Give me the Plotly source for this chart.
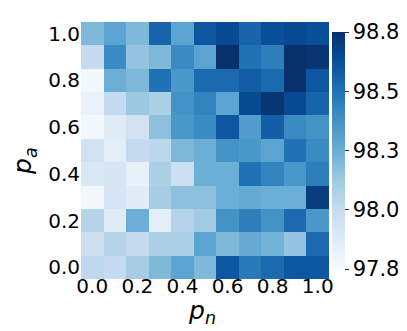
import plotly.graph_objects as go

p_n = [0.0, 0.1, 0.2, 0.3, 0.4, 0.5, 0.6, 0.7, 0.8, 0.9, 1.0]
p_a = [0.0, 0.1, 0.2, 0.3, 0.4, 0.5, 0.6, 0.7, 0.8, 0.9, 1.0]
tick_vals = [0.0, 0.2, 0.4, 0.6, 0.8, 1.0]
tick_text = ["0.0", "0.2", "0.4", "0.6", "0.8", "1.0"]
cbar_vals = [97.8, 98.05, 98.3, 98.55, 98.8]
cbar_text = ["97.8", "98.0", "98.3", "98.5", "98.8"]

# accuracy per (p_a row, p_n column), rows from p_a = 0.0 upwards
acc = [
    [98.07, 98.05, 98.15, 98.25, 98.35, 98.25, 98.65, 98.52, 98.58, 98.65, 98.65],
    [98.02, 98.10, 98.05, 98.13, 98.13, 98.35, 98.25, 98.32, 98.28, 98.20, 98.58],
    [98.10, 97.92, 98.30, 97.90, 98.10, 98.17, 98.42, 98.50, 98.42, 98.58, 98.40],
    [97.82, 97.97, 97.92, 98.15, 98.22, 98.22, 98.30, 98.32, 98.30, 98.30, 98.75],
    [97.95, 97.97, 97.88, 98.13, 98.02, 98.30, 98.30, 98.55, 98.48, 98.40, 98.50],
    [98.00, 97.90, 98.05, 98.08, 98.25, 98.30, 98.42, 98.40, 98.35, 98.55, 98.45],
    [97.82, 97.92, 98.00, 98.22, 98.40, 98.45, 98.65, 98.38, 98.62, 98.45, 98.42],
    [97.87, 98.05, 98.18, 98.13, 98.42, 98.48, 98.35, 98.70, 98.78, 98.70, 98.60],
    [97.82, 98.30, 98.25, 98.55, 98.40, 98.58, 98.58, 98.63, 98.58, 98.80, 98.65],
    [98.05, 98.45, 98.20, 98.25, 98.45, 98.35, 98.80, 98.55, 98.50, 98.80, 98.78],
    [98.25, 98.35, 98.25, 98.60, 98.35, 98.65, 98.70, 98.60, 98.68, 98.70, 98.68],
]

fig = go.Figure(go.Heatmap(
    x=p_n, y=p_a, z=acc,
    colorscale="Blues", zmin=97.8, zmax=98.8,
    colorbar=dict(
        x=1.0, xanchor="left", xpad=3, thickness=13, len=1.0, y=0.5,
        outlinewidth=0,
        tickvals=cbar_vals, ticktext=cbar_text,
        ticks="outside", ticklen=4, tickcolor="#333",
        tickfont=dict(size=21, color="black"),
    ),
))

fig.update_layout(
    width=407, height=331,
    margin=dict(l=73, r=76, t=14, b=60),
    paper_bgcolor="white", plot_bgcolor="white",
    font=dict(family="DejaVu Sans", color="black"),
    xaxis=dict(
        tickvals=tick_vals, ticktext=tick_text, tickfont=dict(size=20),
        showgrid=False, zeroline=False, ticks="", automargin=False,
        ticklabelstandoff=-7,
    ),
    yaxis=dict(
        tickvals=tick_vals, ticktext=tick_text, tickfont=dict(size=20),
        showgrid=False, zeroline=False, ticks="", automargin=False,
    ),
    annotations=[
        dict(text="<i>p<sub>n</sub></i>", xref="paper", yref="paper",
             x=0.488, y=-0.128, xanchor="center", yanchor="middle",
             showarrow=False, font=dict(size=25)),
        dict(text="<i>p<sub>a</sub></i>", xref="paper", yref="paper",
             x=-0.229, y=0.46, xanchor="center", yanchor="middle",
             textangle=-90, showarrow=False, font=dict(size=25)),
    ],
)

fig.write_html("out.html")
